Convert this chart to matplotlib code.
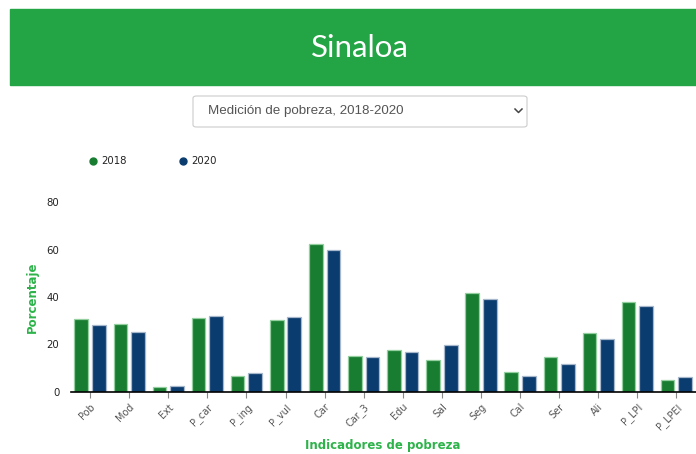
import matplotlib.pyplot as plt
import numpy as np
from matplotlib.patches import Rectangle, FancyBboxPatch
from matplotlib.lines import Line2D

categorias = ["Pob", "Mod", "Ext", "P_car", "P_ing", "P_vul", "Car", "Car_3",
              "Edu", "Sal", "Seg", "Cal", "Ser", "Ali", "P_LPI", "P_LPEI"]
v2018 = [30.9, 28.6, 1.9, 31.3, 6.7, 30.2, 62.4, 15.3,
         17.7, 13.3, 41.5, 8.4, 14.9, 24.7, 37.9, 5.2]
v2020 = [28.2, 25.4, 2.4, 31.8, 8.0, 31.4, 60.0, 14.9,
         17.0, 19.8, 39.2, 6.7, 11.6, 22.2, 36.4, 6.3]
yticks = [0, 20, 40, 60, 80]

W, H = 696, 454
fig = plt.figure(figsize=(W / 100, H / 100), dpi=100)
fig.patch.set_facecolor("white")

def fx(px):
    return px / W

def fy(py):
    return 1 - py / H

# header
fig.patches.append(Rectangle((fx(10), fy(85)), fx(686), 76 / H,
                             transform=fig.transFigure, color="#23a445", zorder=0))
fig.text(fx(360), fy(48), "Sinaloa", color="white", fontsize=22.5,
         family="Lato", ha="center", va="center", zorder=5)

# dropdown
fig.patches.append(FancyBboxPatch((fx(193), fy(127)), fx(334), 31 / H,
                                  boxstyle="round,pad=0,rounding_size=0.005",
                                  transform=fig.transFigure, facecolor="white",
                                  edgecolor="#cccccc", linewidth=0.8))
fig.text(fx(208), fy(111), "Medición de pobreza, 2018-2020", color="#555555",
         fontsize=9.6, family="Liberation Sans", ha="left", va="center")
fig.lines.append(Line2D([fx(515), fx(518.5), fx(522)], [fy(109), fy(112.5), fy(109)],
                        transform=fig.transFigure, color="#444444", linewidth=1.1))

c18, c20 = "#187d31", "#0b3c6f"

# legend
for px, col, lab in [(93, c18, "2018"), (183, c20, "2020")]:
    fig.lines.append(Line2D([fx(px)], [fy(161)], marker="o", markersize=5,
                            color=col, transform=fig.transFigure))
    fig.text(fx(px + 8), fy(161), lab, fontsize=7.3, color="#222222",
             ha="left", va="center")

ax = fig.add_axes([fx(70.5), fy(392), fx(625.5), 190 / H])
x = np.arange(len(categorias))
ax.bar(x - 0.225, v2018, width=0.35, color=c18, edgecolor="#93cf9f", linewidth=0.9)
ax.bar(x + 0.225, v2020, width=0.35, color=c20, edgecolor="#a7b8cc", linewidth=0.9)
ax.set_xlim(-0.5, len(categorias) - 0.5)
ax.set_ylim(0, 80)
ax.set_yticks(yticks)
ax.set_xticks(x)
ax.set_xticklabels(categorias, rotation=45, ha="right", rotation_mode="anchor",
                   fontsize=7, color="#555555")
ax.tick_params(axis="y", length=0, labelsize=7.3, labelcolor="#222222", pad=8)
ax.tick_params(axis="x", length=4, color="#888888", pad=3)
for s in ["top", "right", "left"]:
    ax.spines[s].set_visible(False)
ax.spines["bottom"].set_color("black")
ax.spines["bottom"].set_linewidth(1.2)

fig.text(fx(32), fy(297), "Porcentaje", rotation=90, color="#2db34a",
         fontsize=8.5, weight="bold", ha="center", va="center")
fig.text(fx(383), fy(445), "Indicadores de pobreza", color="#2db34a",
         fontsize=8.5, weight="bold", ha="center", va="center")

fig.savefig("out.png", dpi=100)
